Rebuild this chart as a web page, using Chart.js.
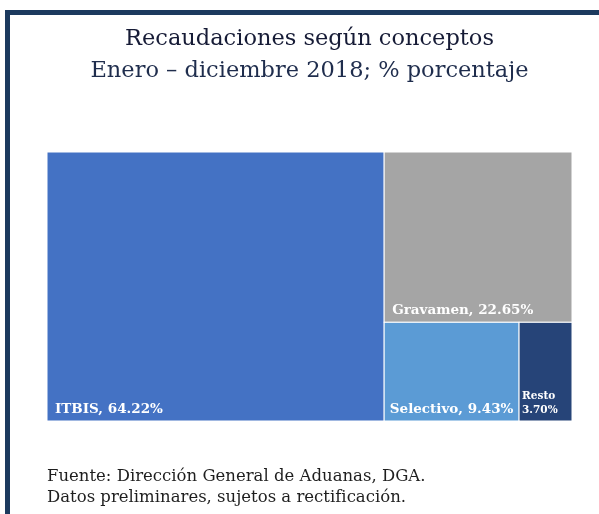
<!DOCTYPE html>
<html lang="es">
<head>
<meta charset="utf-8">
<title>Recaudaciones según conceptos</title>
<script src="https://cdn.jsdelivr.net/npm/chart.js@4.4.1/dist/chart.umd.min.js"></script>
<style>
  html, body { margin: 0; padding: 0; background: #fff; }
  body { width: 599px; height: 514px; position: relative; overflow: hidden; }
  .marco {
    position: absolute; left: 5px; top: 10px; width: 700px; height: 600px;
    border-top: 5px solid #1c3a5e; border-left: 5px solid #1c3a5e;
  }
  #grafico { position: absolute; left: 0; top: 0; }
  .fuente {
    position: absolute; left: 47px; top: 465px;
    font-family: "DejaVu Serif", serif; font-size: 16.5px; line-height: 21px; color: #1e1e1e;
  }
</style>
</head>
<body>
<div class="marco"></div>
<canvas id="grafico" width="599" height="514"></canvas>
<div class="fuente">Fuente: Dirección General de Aduanas, DGA.<br>Datos preliminares, sujetos a rectificación.</div>

<script>
// Datos: recaudaciones por concepto (% del total)
const categorias = ['ITBIS', 'Gravamen', 'Selectivo', 'Resto'];
const valores = [64.22, 22.65, 9.43, 3.70];
const colores = ['#4472c4', '#a5a5a5', '#5b9bd5', '#264478'];

// Peor relación de aspecto de una fila (algoritmo squarified)
function peor(fila, lado) {
  const s = fila.reduce((a, b) => a + b.area, 0);
  const max = Math.max(...fila.map(f => f.area));
  const min = Math.min(...fila.map(f => f.area));
  return Math.max(lado * lado * max / (s * s), (s * s) / (lado * lado * min));
}

// Treemap squarified sobre un rectángulo de ancho w y alto h
function squarify(vals, w, h) {
  const total = vals.reduce((a, b) => a + b, 0);
  let items = vals.map((v, i) => ({ i: i, area: v / total * w * h }));
  let r = { x: 0, y: 0, w: w, h: h };
  const out = [];
  while (items.length) {
    const lado = Math.min(r.w, r.h);
    const fila = [items[0]];
    let k = 1;
    while (k < items.length && peor(fila.concat(items[k]), lado) <= peor(fila, lado)) {
      fila.push(items[k]);
      k++;
    }
    const s = fila.reduce((a, b) => a + b.area, 0);
    if (r.w >= r.h) {
      const cw = s / r.h;
      let yy = r.y;
      fila.forEach(f => { const hh = f.area / cw; out[f.i] = { x: r.x, y: yy, w: cw, h: hh }; yy += hh; });
      r = { x: r.x + cw, y: r.y, w: r.w - cw, h: r.h };
    } else {
      const rh = s / r.w;
      let xx = r.x;
      fila.forEach(f => { const ww = f.area / rh; out[f.i] = { x: xx, y: r.y, w: ww, h: rh }; xx += ww; });
      r = { x: r.x, y: r.y + rh, w: r.w, h: r.h - rh };
    }
    items = items.slice(k);
  }
  return out;
}

// Plugin que dibuja el treemap usando las escalas del gráfico
const treemapPlugin = {
  id: 'treemap',
  beforeDatasetsDraw(chart) {
    const ctx = chart.ctx;
    const xs = chart.scales.x, ys = chart.scales.y;
    const area = chart.chartArea;
    const aspecto = (area.right - area.left) / (area.bottom - area.top);
    const ds = chart.data.datasets[0];
    // layout en unidades proporcionales y luego pasado a la escala 0-100
    const rects = squarify(ds.valores, 100 * aspecto, 100);

    ctx.save();
    rects.forEach((r, i) => {
      const x0 = xs.getPixelForValue(r.x / aspecto);
      const x1 = xs.getPixelForValue((r.x + r.w) / aspecto);
      const y0 = ys.getPixelForValue(r.y);
      const y1 = ys.getPixelForValue(r.y + r.h);
      ctx.fillStyle = ds.backgroundColor[i];
      ctx.fillRect(x0, y0, x1 - x0, y1 - y0);
      ctx.strokeStyle = '#ffffff';
      ctx.lineWidth = 1;
      ctx.strokeRect(x0, y0, x1 - x0, y1 - y0);

      // etiqueta abajo a la izquierda
      const texto = chart.data.labels[i] + ', ' + ds.valores[i].toFixed(2) + '%';
      ctx.fillStyle = '#ffffff';
      ctx.textBaseline = 'alphabetic';
      ctx.font = 'bold 13.5px "DejaVu Serif", serif';
      const tw = ctx.measureText(texto).width;
      if (tw < (x1 - x0) - 6) {
        ctx.fillText(texto, x0 + Math.min(8, (x1 - x0 - tw) / 2), y1 - 8);
      } else {
        // si no cabe, dos líneas con letra más pequeña (como "Resto")
        ctx.font = 'bold 10.5px "DejaVu Serif", serif';
        ctx.fillText(chart.data.labels[i], x0 + 3, y1 - 22);
        ctx.fillText(ds.valores[i].toFixed(2) + '%', x0 + 3, y1 - 8);
      }
    });
    ctx.restore();
  }
};

new Chart(document.getElementById('grafico'), {
  type: 'scatter',
  data: {
    labels: categorias,
    datasets: [{
      label: 'Recaudaciones',
      data: [],
      valores: valores,
      backgroundColor: colores
    }]
  },
  options: {
    responsive: false,
    animation: false,
    layout: { padding: { left: 47, right: 27, top: 0, bottom: 93 } },
    scales: {
      x: { display: false, min: 0, max: 100 },
      y: { display: false, min: 0, max: 100, reverse: true }
    },
    plugins: {
      legend: { display: false },
      tooltip: { enabled: false },
      title: {
        display: true,
        text: 'Recaudaciones según conceptos',
        color: '#161b36',
        font: { family: '"DejaVu Serif", serif', size: 22.5, weight: 'normal', lineHeight: 1.2 },
        padding: { top: 25.5, bottom: 0 }
      },
      subtitle: {
        display: true,
        text: 'Enero – diciembre 2018; % porcentaje',
        color: '#1f2d4d',
        font: { family: '"DejaVu Serif", serif', size: 22.5, weight: 'normal', lineHeight: 1.2 },
        padding: { top: 5, bottom: 67.5 }
      }
    }
  },
  plugins: [treemapPlugin]
});
</script>
</body>
</html>
